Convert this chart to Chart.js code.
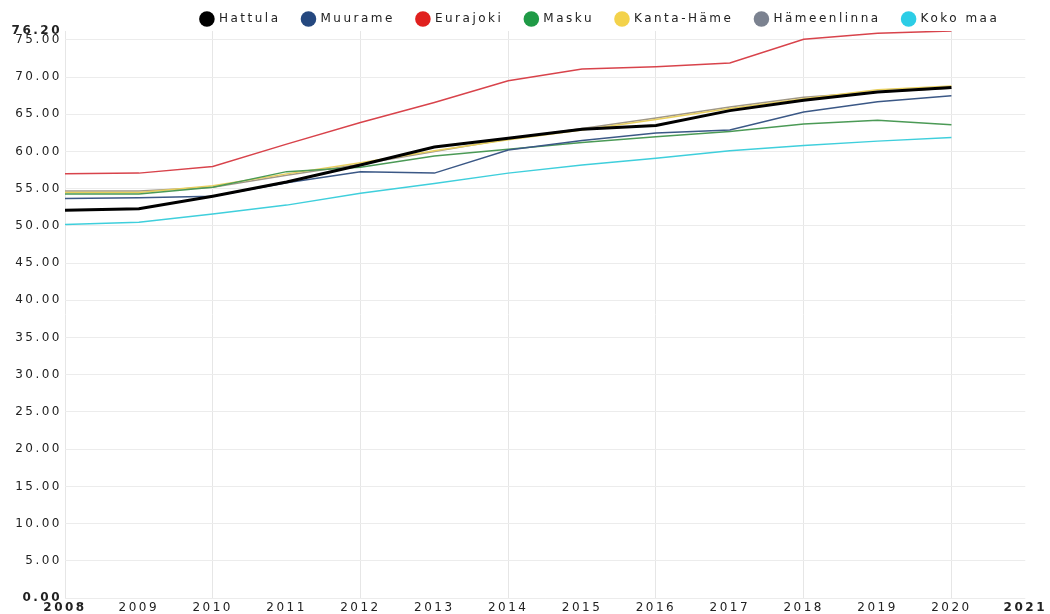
<!DOCTYPE html>
<html>
<head>
<meta charset="utf-8">
<script src="https://cdn.jsdelivr.net/npm/chart.js@4/dist/chart.umd.min.js"></script>
<style>
  html, body { margin: 0; padding: 0; background: #fff; }
  #wrap { width: 1050px; height: 614px; }
</style>
</head>
<body>
<div id="wrap"><canvas id="lineChart"></canvas></div>
<script>
    // values
    const years = [2008, 2009, 2010, 2011, 2012, 2013, 2014, 2015, 2016, 2017, 2018, 2019, 2020];
    const hattula     = [52.1, 52.3, 54.0, 55.9, 58.2, 60.6, 61.8, 63.0, 63.5, 65.5, 66.9, 68.0, 68.6];
    const muurame     = [53.7, 53.8, 54.0, 55.8, 57.3, 57.1, 60.2, 61.5, 62.5, 62.9, 65.3, 66.7, 67.5];
    const eurajoki    = [57.0, 57.1, 58.0, 61.0, 63.9, 66.6, 69.5, 71.1, 71.4, 71.9, 75.1, 75.9, 76.2];
    const masku       = [54.3, 54.3, 55.2, 57.3, 57.9, 59.4, 60.3, 61.2, 62.0, 62.7, 63.7, 64.2, 63.6];
    const kantaHame   = [54.5, 54.5, 55.4, 57.0, 58.5, 60.1, 61.6, 62.9, 64.3, 65.8, 67.1, 68.3, 68.8];
    const hameenlinna = [54.7, 54.7, 55.2, 56.8, 58.3, 60.0, 61.7, 63.1, 64.5, 66.0, 67.3, 68.0, 68.5];
    const kokoMaa     = [50.2, 50.5, 51.6, 52.8, 54.4, 55.7, 57.1, 58.2, 59.1, 60.1, 60.8, 61.4, 61.9];

    const xTicks = [2008, 2009, 2010, 2011, 2012, 2013, 2014, 2015, 2016, 2017, 2018, 2019, 2020, 2021];
    const yTicks = [0, 5, 10, 15, 20, 25, 30, 35, 40, 45, 50, 55, 60, 65, 70, 75, 76.2];

    const toPoints = (vals) => vals.map((v, i) => ({ x: years[i], y: v }));

    const series = [
        { label: 'Hattula', data: hattula, line: '#000000', dot: '#000000', width: 3 },
        { label: 'Muurame', data: muurame, line: '#3b5886', dot: '#25487f', width: 1.5 },
        { label: 'Eurajoki', data: eurajoki, line: '#d8434b', dot: '#e0201e', width: 1.5 },
        { label: 'Masku', data: masku, line: '#4b9a56', dot: '#1f9a46', width: 1.5 },
        { label: 'Kanta-Häme', data: kantaHame, line: '#e8cf5e', dot: '#f3d24b', width: 1.5 },
        { label: 'Hämeenlinna', data: hameenlinna, line: '#a09888', dot: '#7b8290', width: 1.5 },
        { label: 'Koko maa', data: kokoMaa, line: '#3fcfdc', dot: '#2ccde6', width: 1.5 }
    ];

    // the reference text is drawn wide, so space the letters out
    const spacing = {
        id: 'spacing',
        beforeLayout(chart) { chart.ctx.letterSpacing = '2.5px'; },
        afterLayout(chart) {
            // nudge the legend row without moving the plot
            const lg = chart.legend;
            lg.top += 4; lg.bottom += 4;
            lg.left -= 4; lg.right -= 4;
        },
        beforeDraw(chart) { chart.ctx.letterSpacing = '2.5px'; }
    };

    const edgeFont = (ctx, list) => {
        const last = ctx.index === list.length - 1;
        return { family: 'DejaVu Sans', size: 12, weight: (ctx.index === 0 || last) ? 'bold' : 'normal' };
    };

    const lineChartCtx = document.getElementById('lineChart').getContext('2d');
    new Chart(lineChartCtx, {
        type: 'line',
        data: {
            datasets: series.map(s => ({
                label: s.label,
                data: toPoints(s.data),
                borderColor: s.line,
                backgroundColor: s.dot,
                borderWidth: s.width,
                pointRadius: 0,
                tension: 0,
                fill: false
            }))
        },
        plugins: [spacing],
        options: {
            responsive: true,
            maintainAspectRatio: false,
            animation: false,
            layout: { padding: { top: -13, right: 21, left: 0, bottom: 0 } },
            plugins: {
                tooltip: { enabled: false },
                legend: {
                    position: 'top',
                    align: 'end',
                    fullSize: false,
                    labels: {
                        usePointStyle: true,
                        pointStyle: 'circle',
                        boxHeight: 11,
                        padding: 22,
                        color: '#222',
                        font: { family: 'DejaVu Sans', size: 12 },
                        generateLabels(chart) {
                            const items = Chart.defaults.plugins.legend.labels.generateLabels(chart);
                            items.forEach(it => { it.strokeStyle = it.fillStyle; it.lineWidth = 0; });
                            return items;
                        }
                    }
                }
            },
            scales: {
                x: {
                    type: 'linear',
                    min: 2008,
                    max: 2021,
                    afterBuildTicks: (scale) => { scale.ticks = xTicks.map(v => ({ value: v })); },
                    afterFit: (scale) => { scale.height = 16; },
                    border: { display: false },
                    grid: {
                        color: (ctx) => (ctx.tick && ctx.tick.value % 2 === 0) ? '#e6e6e6' : 'rgba(0,0,0,0)',
                        drawTicks: false
                    },
                    ticks: {
                        padding: 3,
                        color: '#222',
                        maxRotation: 0,
                        autoSkip: false,
                        font: (ctx) => edgeFont(ctx, xTicks),
                        callback: (v) => String(v)
                    }
                },
                y: {
                    min: 0,
                    max: 76.2,
                    afterBuildTicks: (scale) => { scale.ticks = yTicks.map(v => ({ value: v })); },
                    afterFit: (scale) => { scale.width = 65; },
                    border: { display: false },
                    grid: {
                        color: (ctx) => (ctx.tick && ctx.tick.value === 76.2) ? 'rgba(0,0,0,0)' : '#ececec',
                        drawTicks: false
                    },
                    ticks: {
                        padding: 3,
                        color: '#222',
                        autoSkip: false,
                        font: (ctx) => edgeFont(ctx, yTicks),
                        callback: (v) => v.toFixed(2)
                    }
                }
            }
        }
    });
</script>
</body>
</html>
